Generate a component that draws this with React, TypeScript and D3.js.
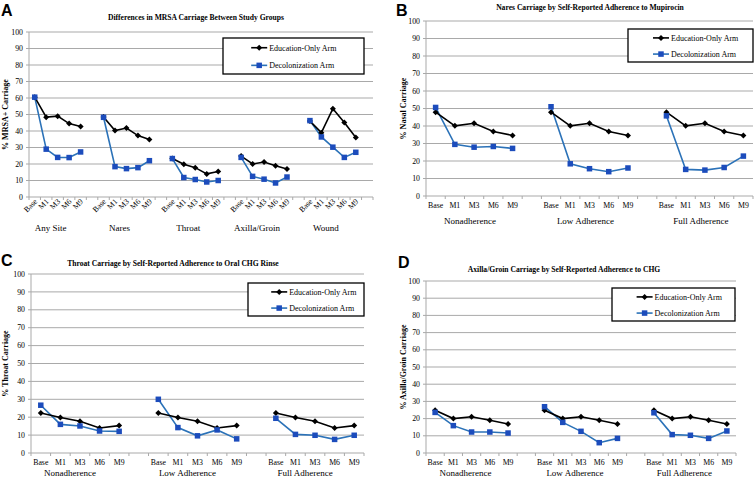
import * as d3 from "d3";

const months = ["Base", "M1", "M3", "M6", "M9"];
const yTicks = [0, 10, 20, 30, 40, 50, 60, 70, 80, 90, 100];
const seriesNames = ["Education-Only Arm", "Decolonization Arm"];

const sitesA = ["Any Site", "Nares", "Throat", "Axilla/Groin", "Wound"];
const eduA = [
  [60.5, 48.4, 49, 44.5, 42.7],
  [48.5, 40.3, 41.8, 37.2, 34.8],
  [23.3, 19.8, 17.8, 14, 15.4],
  [24.8, 20, 21.2, 19, 17],
  [46, 39, 53.5, 45.2, 36],
];
const decA = [
  [60.5, 29, 24, 23.9, 27.3],
  [48.3, 18.4, 17.2, 17.8, 22],
  [23.3, 11.8, 10.6, 9.1, 10],
  [24, 12.5, 10.8, 8.5, 12.1],
  [46.3, 36.4, 30.2, 24, 27.1],
];

const adherence = ["Nonadherence", "Low Adherence", "Full Adherence"];

const eduB = [47.9, 40.1, 41.6, 36.9, 34.6];
const decB = [
  [50.6, 29.5, 27.9, 28.3, 27.2],
  [51, 18.4, 15.6, 13.9, 16],
  [45.8, 15.2, 14.8, 16.3, 22.8],
];

const eduC = [22.4, 19.8, 17.7, 14, 15.3];
const decC = [
  [26.7, 16, 15.1, 12.3, 12.1],
  [30, 14.2, 9.6, 12.9, 7.9],
  [19.4, 10.4, 9.9, 7.6, 9.9],
];

const eduD = [24.8, 20, 21.1, 19, 16.9];
const decD = [
  [23.6, 15.9, 12.2, 12.2, 11.6],
  [26.9, 17.8, 12.6, 6, 8.5],
  [23.4, 10.7, 10.3, 8.5, 12.8],
];

const BLACK = "#000";
const BLUE_LINE = "#2b72b8";
const BLUE_MARK = "#1c4cbc";
const GRID = "#a9a9a9";
const SERIF = "'Liberation Serif', 'Times New Roman', serif";

type PanelProps = {
  letter: string;
  title: string;
  yTitle: string;
  groups: string[];
  edu: number[][];
  dec: number[][];
  left: number;
  right: number;
  top: number;
  bottom: number;
  trailingGap: boolean;
  rotated: boolean;
  letterPos: [number, number];
  titlePos: [number, number];
  yTitleX: number;
  legend: [number, number, number, number];
  catY: number;
  groupY: number;
  groupShift: number;
};

function Diamond({ cx, cy }: { cx: number; cy: number }) {
  const r = 3;
  return <path d={`M${cx},${cy - r}L${cx + r},${cy}L${cx},${cy + r}L${cx - r},${cy}Z`} fill={BLACK} />;
}

function Square({ cx, cy }: { cx: number; cy: number }) {
  const s = 5.5;
  return <rect x={cx - s / 2} y={cy - s / 2} width={s} height={s} fill={BLUE_MARK} />;
}

function Panel(p: PanelProps) {
  const slots: string[] = [];
  p.groups.forEach((g, gi) => {
    months.forEach((m) => slots.push(`${gi}|${m}`));
    if (gi < p.groups.length - 1 || p.trailingGap) slots.push(`gap${gi}`);
  });
  const x = d3.scaleBand<string>().domain(slots).range([p.left, p.right]);
  const y = d3.scaleLinear().domain([0, 100]).range([p.bottom, p.top]);
  const cx = (gi: number, m: string) => (x(`${gi}|${m}`) ?? 0) + x.bandwidth() / 2;
  const line = (gi: number) =>
    d3
      .line<number>()
      .x((_, i) => cx(gi, months[i]))
      .y((v) => y(v));

  const [lx0, ly0, lx1, ly1] = p.legend;
  const legRows = [ly0 + (ly1 - ly0) * 0.27, ly0 + (ly1 - ly0) * 0.76];
  const lineX0 = lx0 + (lx1 - lx0) * 0.2;
  const lineX1 = lineX0 + 16;

  return (
    <g>
      <text x={p.letterPos[0]} y={p.letterPos[1]} fontFamily="Arial, 'Liberation Sans', sans-serif" fontWeight="bold" fontSize={16}>
        {p.letter}
      </text>
      <text x={p.titlePos[0]} y={p.titlePos[1]} textAnchor="middle" fontFamily={SERIF} fontWeight="bold" fontSize={7.6}>
        {p.title}
      </text>
      {/* grid + y axis */}
      {yTicks.map((t) => (
        <g key={t}>
          {t > 0 && <line x1={p.left} x2={p.right} y1={y(t)} y2={y(t)} stroke={GRID} strokeWidth={1} />}
          <line x1={p.left - 3} x2={p.left} y1={y(t)} y2={y(t)} stroke={GRID} strokeWidth={1} />
          <text x={p.left - 6} y={y(t) + 2.6} textAnchor="end" fontFamily={SERIF} fontSize={7.8}>
            {t}
          </text>
        </g>
      ))}
      <line x1={p.left} x2={p.left} y1={p.top} y2={p.bottom} stroke={GRID} strokeWidth={1} />
      <line x1={p.left} x2={p.right} y1={p.bottom} y2={p.bottom} stroke={GRID} strokeWidth={1} />
      {slots.concat(["end"]).map((s, i) => {
        const xx = i < slots.length ? x(s) ?? 0 : p.right;
        return <line key={s} x1={xx} x2={xx} y1={p.bottom} y2={p.bottom + 3} stroke={GRID} strokeWidth={1} />;
      })}
      <text
        transform={`translate(${p.yTitleX},${(p.top + p.bottom) / 2}) rotate(-90)`}
        textAnchor="middle"
        fontFamily={SERIF}
        fontWeight="bold"
        fontSize={8}
      >
        {p.yTitle}
      </text>
      {/* category labels */}
      {p.groups.map((g, gi) => (
        <g key={g}>
          {months.map((m) =>
            p.rotated ? (
              <text
                key={m}
                transform={`translate(${cx(gi, m) + 3},${p.catY}) rotate(-45)`}
                textAnchor="end"
                fontFamily={SERIF}
                fontSize={7.8}
              >
                {m}
              </text>
            ) : (
              <text key={m} x={cx(gi, m)} y={p.catY} textAnchor="middle" fontFamily={SERIF} fontSize={7.8}>
                {m}
              </text>
            )
          )}
          <text x={cx(gi, "M3") + p.groupShift} y={p.groupY} textAnchor="middle" fontFamily={SERIF} fontSize={9}>
            {g}
          </text>
        </g>
      ))}
      {/* series */}
      {p.groups.map((g, gi) => (
        <g key={g}>
          <path d={line(gi)(p.dec[gi]) ?? ""} fill="none" stroke={BLUE_LINE} strokeWidth={1.6} />
          <path d={line(gi)(p.edu[gi]) ?? ""} fill="none" stroke={BLACK} strokeWidth={1.6} />
          {p.edu[gi].map((v, i) => (
            <Diamond key={`e${i}`} cx={cx(gi, months[i])} cy={y(v)} />
          ))}
          {p.dec[gi].map((v, i) => (
            <Square key={`d${i}`} cx={cx(gi, months[i])} cy={y(v)} />
          ))}
        </g>
      ))}
      {/* legend */}
      <rect x={lx0} y={ly0} width={lx1 - lx0} height={ly1 - ly0} fill="#fff" stroke="#000" strokeWidth={1.3} />
      {seriesNames.map((n, i) => (
        <g key={n}>
          <line x1={lineX0} x2={lineX1} y1={legRows[i]} y2={legRows[i]} stroke={i === 0 ? BLACK : BLUE_LINE} strokeWidth={1.6} />
          {i === 0 ? (
            <Diamond cx={(lineX0 + lineX1) / 2} cy={legRows[i]} />
          ) : (
            <Square cx={(lineX0 + lineX1) / 2} cy={legRows[i]} />
          )}
          <text x={lineX1 + 2} y={legRows[i] + 2.8} fontFamily={SERIF} fontSize={8}>
            {n}
          </text>
        </g>
      ))}
    </g>
  );
}

export default function App() {
  const rep = (v: number[]) => adherence.map(() => v);
  return (
    <svg width={754} height={479} style={{ position: "absolute", left: 0, top: 0, background: "#fff" }}>
      <rect width={754} height={479} fill="#fff" />
      <Panel
        letter="A"
        title="Differences in MRSA Carriage Between Study Groups"
        yTitle="% MRSA+ Carriage"
        groups={sitesA}
        edu={eduA}
        dec={decA}
        left={29}
        right={373}
        top={32}
        bottom={197}
        trailingGap={true}
        rotated={true}
        letterPos={[1, 16]}
        titlePos={[196, 20]}
        yTitleX={8}
        legend={[223, 38, 364, 74]}
        catY={202}
        groupY={231}
        groupShift={-7}
      />
      <Panel
        letter="B"
        title="Nares Carriage by Self-Reported Adherence to Mupirocin"
        yTitle="% Nasal Carriage"
        groups={adherence}
        edu={rep(eduB)}
        dec={decB}
        left={426}
        right={753}
        top={21}
        bottom={196}
        trailingGap={false}
        rotated={false}
        letterPos={[396, 16]}
        titlePos={[590, 10]}
        yTitleX={406}
        legend={[628, 29, 753, 62]}
        catY={208}
        groupY={224}
        groupShift={-4}
      />
      <Panel
        letter="C"
        title="Throat Carriage by Self-Reported Adherence to Oral CHG Rinse"
        yTitle="% Throat Carriage"
        groups={adherence}
        edu={rep(eduC)}
        dec={decC}
        left={31}
        right={364}
        top={274}
        bottom={453}
        trailingGap={false}
        rotated={false}
        letterPos={[1, 266]}
        titlePos={[173, 266]}
        yTitleX={8}
        legend={[248, 283, 364, 316]}
        catY={465}
        groupY={476}
        groupShift={-10}
      />
      <Panel
        letter="D"
        title="Axilla/Groin Carriage by Self-Reported Adherence to CHG"
        yTitle="% Axilla/Groin Carriage"
        groups={adherence}
        edu={rep(eduD)}
        dec={decD}
        left={426}
        right={736}
        top={281}
        bottom={453}
        trailingGap={false}
        rotated={false}
        letterPos={[398, 268]}
        titlePos={[564, 272]}
        yTitleX={406}
        legend={[612, 288, 735, 321]}
        catY={465}
        groupY={476}
        groupShift={-6}
      />
    </svg>
  );
}
